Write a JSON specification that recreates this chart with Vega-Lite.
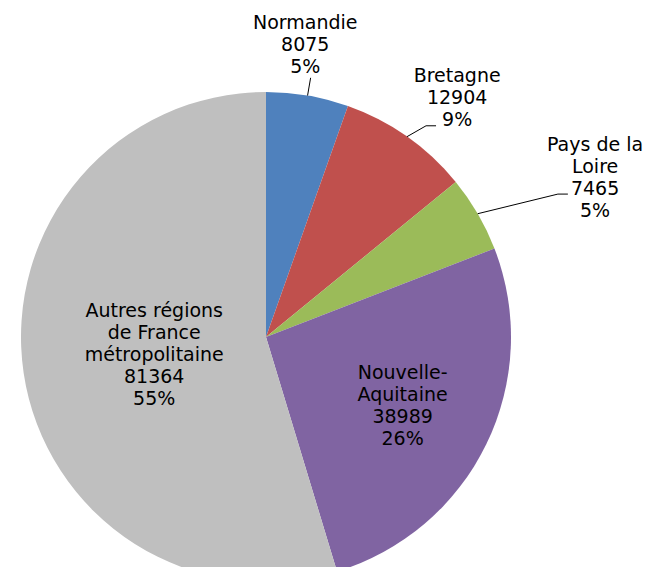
{
  "$schema": "https://vega.github.io/schema/vega-lite/v6.json",
  "width": 532,
  "height": 674,
  "autosize": {"type": "none"},
  "padding": {"left": 0, "top": 0, "right": 115, "bottom": 0},
  "background": "white",
  "config": {"view": {"stroke": null}},
  "data": {
    "values": [
      {"rank": 1, "region": "Normandie", "name": "Normandie", "value": 8075},
      {"rank": 2, "region": "Bretagne", "name": "Bretagne", "value": 12904},
      {"rank": 3, "region": "Pays de la Loire", "name": "Pays de la\nLoire", "value": 7465},
      {"rank": 4, "region": "Nouvelle-Aquitaine", "name": "Nouvelle-\nAquitaine", "value": 38989},
      {"rank": 5, "region": "Autres régions de France métropolitaine", "name": "Autres régions\nde France\nmétropolitaine", "value": 81364}
    ]
  },
  "transform": [
    {"joinaggregate": [{"op": "sum", "field": "value", "as": "total"}]},
    {"calculate": "datum.name + '\\n' + datum.value + '\\n' + format(datum.value / datum.total, '.0%')", "as": "label"}
  ],
  "layer": [
    {
      "mark": {"type": "arc", "outerRadius": 245},
      "encoding": {
        "theta": {"field": "value", "type": "quantitative", "stack": true},
        "order": {"field": "rank", "type": "quantitative"},
        "color": {
          "field": "region",
          "type": "nominal",
          "scale": {
            "domain": ["Normandie", "Bretagne", "Pays de la Loire", "Nouvelle-Aquitaine", "Autres régions de France métropolitaine"],
            "range": ["#4F81BD", "#C0504D", "#9BBB59", "#8064A2", "#BFBFBF"]
          },
          "legend": null
        }
      }
    },
    {
      "transform": [
        {"stack": "value", "groupby": [], "sort": [{"field": "rank", "order": "ascending"}], "as": ["s0", "s1"]},
        {"filter": "datum.rank <= 3"},
        {"calculate": "PI * (datum.s0 + datum.s1) / datum.total", "as": "mid"},
        {"calculate": "datum.rank == 1 ? 263 : datum.rank == 2 ? 265 : 325", "as": "re"},
        {"calculate": "datum.rank == 1 ? 0 : datum.rank == 2 ? 0.035 : 0.072", "as": "da"},
        {"calculate": "245 * sin(datum.mid)", "as": "lx1"},
        {"calculate": "245 * cos(datum.mid)", "as": "ly1"},
        {"calculate": "datum.re * sin(datum.mid + datum.da)", "as": "lx2"},
        {"calculate": "datum.re * cos(datum.mid + datum.da)", "as": "ly2"}
      ],
      "mark": {"type": "rule", "color": "#000000", "strokeWidth": 1},
      "encoding": {
        "x": {"field": "lx1", "type": "quantitative", "scale": {"domain": [-266, 266], "nice": false, "zero": false}, "axis": null},
        "y": {"field": "ly1", "type": "quantitative", "scale": {"domain": [-337, 337], "nice": false, "zero": false}, "axis": null},
        "x2": {"field": "lx2"},
        "y2": {"field": "ly2"}
      }
    },
    {
      "transform": [
        {"stack": "value", "groupby": [], "sort": [{"field": "rank", "order": "ascending"}], "as": ["s0", "s1"]},
        {"filter": "datum.rank == 2 || datum.rank == 3"},
        {"calculate": "PI * (datum.s0 + datum.s1) / datum.total", "as": "mid"},
        {"calculate": "datum.rank == 2 ? 265 : 325", "as": "re"},
        {"calculate": "datum.rank == 2 ? 0.035 : 0.072", "as": "da"},
        {"calculate": "datum.re * sin(datum.mid + datum.da)", "as": "lx2"},
        {"calculate": "datum.re * cos(datum.mid + datum.da)", "as": "ly2"},
        {"calculate": "datum.lx2 + 10", "as": "lx3"}
      ],
      "mark": {"type": "rule", "color": "#000000", "strokeWidth": 1},
      "encoding": {
        "x": {"field": "lx2", "type": "quantitative", "scale": {"domain": [-266, 266], "nice": false, "zero": false}, "axis": null},
        "y": {"field": "ly2", "type": "quantitative", "scale": {"domain": [-337, 337], "nice": false, "zero": false}, "axis": null},
        "x2": {"field": "lx3"}
      }
    },
    {
      "mark": {"type": "text", "radius": 296, "dx": -11, "dy": -22, "fontSize": 19, "lineHeight": 22, "lineBreak": "\n", "font": "DejaVu Sans", "color": "#000000", "baseline": "middle", "align": "center"},
      "encoding": {
        "theta": {"field": "value", "type": "quantitative", "stack": true},
        "order": {"field": "rank", "type": "quantitative"},
        "text": {"condition": {"test": "datum.rank == 1", "field": "label", "type": "nominal"}, "value": ""}
      }
    },
    {
      "mark": {"type": "text", "radius": 306, "dx": 15, "dy": -11, "fontSize": 19, "lineHeight": 22, "lineBreak": "\n", "font": "DejaVu Sans", "color": "#000000", "baseline": "middle", "align": "center"},
      "encoding": {
        "theta": {"field": "value", "type": "quantitative", "stack": true},
        "order": {"field": "rank", "type": "quantitative"},
        "text": {"condition": {"test": "datum.rank == 2", "field": "label", "type": "nominal"}, "value": ""}
      }
    },
    {
      "mark": {"type": "text", "radius": 360, "dx": 18, "dy": -11, "fontSize": 19, "lineHeight": 22, "lineBreak": "\n", "font": "DejaVu Sans", "color": "#000000", "baseline": "middle", "align": "center"},
      "encoding": {
        "theta": {"field": "value", "type": "quantitative", "stack": true},
        "order": {"field": "rank", "type": "quantitative"},
        "text": {"condition": {"test": "datum.rank == 3", "field": "label", "type": "nominal"}, "value": ""}
      }
    },
    {
      "mark": {"type": "text", "radius": 152, "dx": 0, "dy": -31, "fontSize": 19, "lineHeight": 22, "lineBreak": "\n", "font": "DejaVu Sans", "color": "#000000", "baseline": "middle", "align": "center"},
      "encoding": {
        "theta": {"field": "value", "type": "quantitative", "stack": true},
        "order": {"field": "rank", "type": "quantitative"},
        "text": {"condition": {"test": "datum.rank == 4", "field": "label", "type": "nominal"}, "value": ""}
      }
    },
    {
      "mark": {"type": "text", "radius": 113, "dx": 0, "dy": -43, "fontSize": 19, "lineHeight": 22, "lineBreak": "\n", "font": "DejaVu Sans", "color": "#000000", "baseline": "middle", "align": "center"},
      "encoding": {
        "theta": {"field": "value", "type": "quantitative", "stack": true},
        "order": {"field": "rank", "type": "quantitative"},
        "text": {"condition": {"test": "datum.rank == 5", "field": "label", "type": "nominal"}, "value": ""}
      }
    }
  ]
}
